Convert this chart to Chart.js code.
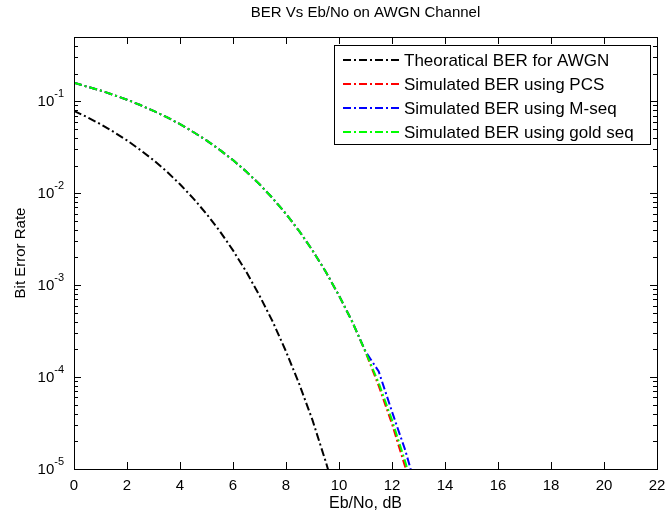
<!DOCTYPE html>
<html lang="en">
<head>
    <meta charset="UTF-8">
    <title>BER Vs Eb/No on AWGN Channel</title>
    <script src="https://cdn.jsdelivr.net/npm/chart.js"></script>
    <style>
        body { margin: 0; background: #fff; }
        canvas { display: block; }
    </style>
</head>
<body>
    <canvas id="berChart" width="667" height="513"></canvas>
    <script>
        // Eb/No points (dB)
        const ebnoTheory = [0, 0.5, 1, 1.5, 2, 2.5, 3, 3.5, 4, 4.5, 5, 5.5, 6, 6.5, 7, 7.5, 8, 8.5, 9, 9.5, 10];
        const ebnoSim = [0, 0.5, 1, 1.5, 2, 2.5, 3, 3.5, 4, 4.5, 5, 5.5, 6, 6.5, 7, 7.5, 8, 8.5, 9, 9.5, 10, 10.5, 11, 11.5, 12, 12.5, 13];

        const berTheory = [0.0786, 0.0672, 0.0563, 0.0463, 0.0375, 0.0296, 0.0229, 0.0172, 0.0125, 0.0088, 0.00595,
            0.00387, 0.00239, 0.0014, 0.00077, 0.0004, 0.00019, 0.000084, 0.000034, 0.000012, 0.0000039];
        const berPCS = [0.159, 0.144, 0.131, 0.117, 0.104, 0.091, 0.0786, 0.0672, 0.0563, 0.0463, 0.0375, 0.0296,
            0.0229, 0.0172, 0.0125, 0.0088, 0.00595, 0.00387, 0.00239, 0.0014, 0.00077, 0.0004, 0.000188,
            0.00008, 0.000031, 0.0000105, 0.0000033];
        const berMseq = [0.159, 0.144, 0.131, 0.117, 0.104, 0.091, 0.0786, 0.0672, 0.0563, 0.0463, 0.0375, 0.0296,
            0.0229, 0.0172, 0.0125, 0.0088, 0.00595, 0.00387, 0.00239, 0.0014, 0.00077, 0.0004, 0.00019,
            0.000115, 0.000042, 0.000016, 0.000005];
        const berGold = [0.159, 0.144, 0.131, 0.117, 0.104, 0.091, 0.0786, 0.0672, 0.0563, 0.0463, 0.0375, 0.0296,
            0.0229, 0.0172, 0.0125, 0.0088, 0.00595, 0.00387, 0.00239, 0.0014, 0.00077, 0.0004, 0.000189,
            0.000086, 0.000034, 0.000012, 0.0000038];

        const yDecades = [-5, -4, -3, -2, -1];

        const labels = ["Theoratical BER for AWGN", "Simulated BER using PCS", "Simulated BER using M-seq", "Simulated BER using gold seq"];
        const colors = ["#000000", "#ff0000", "#0000ff", "#00ff00"];
        const dash = [8, 3, 2, 3];
        const FONT = "'Liberation Sans', Arial, sans-serif";

        const toPts = (xs, ys) => xs.map((x, i) => ({ x: x, y: ys[i] }));
        const series = [toPts(ebnoTheory, berTheory), toPts(ebnoSim, berPCS), toPts(ebnoSim, berMseq), toPts(ebnoSim, berGold)];

        // MATLAB style box with inward ticks, 10^n labels and legend
        const boxPlugin = {
            id: 'boxPlugin',
            afterDatasetsDraw(chart) {
                const ctx = chart.ctx;
                const a = chart.chartArea;
                const xs = chart.scales.x, ys = chart.scales.y;
                ctx.save();
                ctx.strokeStyle = '#000';
                ctx.lineWidth = 1;
                ctx.beginPath();
                xs.ticks.forEach(t => {
                    const px = Math.round(xs.getPixelForValue(t.value)) + 0.5;
                    ctx.moveTo(px, a.bottom); ctx.lineTo(px, a.bottom - 7);
                    ctx.moveTo(px, a.top); ctx.lineTo(px, a.top + 7);
                });
                yDecades.forEach(d => {
                    for (let k = 1; k <= 9; k++) {
                        const v = k * Math.pow(10, d);
                        if (v > ys.max) break;
                        const len = k === 1 ? 7 : 4;
                        const py = Math.round(ys.getPixelForValue(v)) + 0.5;
                        ctx.moveTo(a.left, py); ctx.lineTo(a.left + len, py);
                        ctx.moveTo(a.right, py); ctx.lineTo(a.right - len, py);
                    }
                });
                ctx.stroke();
                ctx.strokeRect(Math.round(a.left) + 0.5, Math.round(a.top) + 0.5, Math.round(a.right - a.left), Math.round(a.bottom - a.top));

                // y tick labels 10^n
                ctx.fillStyle = '#000';
                ctx.textAlign = 'right';
                ctx.textBaseline = 'middle';
                yDecades.forEach(d => {
                    const py = ys.getPixelForValue(Math.pow(10, d));
                    const exp = String(d);
                    ctx.font = '11px ' + FONT;
                    const w = ctx.measureText(exp).width;
                    ctx.fillText(exp, a.left - 10, py - 7);
                    ctx.font = '15px ' + FONT;
                    ctx.fillText('10', a.left - 10 - w, py + 1);
                });

                // legend
                const lx = 334, ly = 45, lw = 316, lh = 99;
                ctx.textAlign = 'left';
                ctx.fillStyle = '#fff';
                ctx.fillRect(lx, ly, lw, lh);
                ctx.strokeRect(lx + 0.5, ly + 0.5, lw, lh);
                ctx.font = '17px ' + FONT;
                labels.forEach((lab, i) => {
                    const y = ly + 15 + i * 24;
                    ctx.strokeStyle = colors[i];
                    ctx.lineWidth = 2;
                    ctx.setLineDash(dash);
                    ctx.beginPath();
                    ctx.moveTo(lx + 9, y); ctx.lineTo(lx + 67, y);
                    ctx.stroke();
                    ctx.setLineDash([]);
                    ctx.fillStyle = '#000';
                    ctx.fillText(lab, lx + 70, y + 1);
                });
                ctx.restore();
            }
        };

        new Chart(document.getElementById('berChart'), {
            type: 'line',
            data: {
                datasets: series.map((pts, i) => ({
                    label: labels[i],
                    data: pts,
                    borderColor: colors[i],
                    borderWidth: 2,
                    borderDash: dash,
                    pointRadius: 0,
                    tension: 0,
                    fill: false,
                    order: 3 - i
                }))
            },
            options: {
                responsive: false,
                animation: false,
                layout: { padding: { left: 0, right: 10, top: 0, bottom: 0 } },
                plugins: {
                    legend: { display: false },
                    tooltip: { enabled: false },
                    title: {
                        display: true,
                        text: 'BER Vs Eb/No on AWGN Channel',
                        fullSize: false,
                        color: '#000',
                        font: { family: FONT, size: 15, weight: 'normal' },
                        padding: { top: 4, bottom: 15 }
                    }
                },
                scales: {
                    x: {
                        type: 'linear',
                        min: 0, max: 22,
                        grid: { display: false },
                        border: { display: true, color: '#000' },
                        ticks: { stepSize: 2, color: '#000', padding: 0, font: { family: FONT, size: 15 } },
                        title: { display: true, text: 'Eb/No, dB', color: '#000', font: { family: FONT, size: 16 }, padding: { top: 0, bottom: 0 } },
                        afterFit(scale) { scale.height = 44; }
                    },
                    y: {
                        type: 'logarithmic',
                        min: 1e-5, max: 0.5,
                        grid: { display: false },
                        border: { display: true, color: '#000' },
                        ticks: { display: false },
                        title: { display: true, text: 'Bit Error Rate', color: '#000', font: { family: FONT, size: 15 }, padding: { top: 12, bottom: 0 } },
                        afterFit(scale) { scale.width = 74; }
                    }
                }
            },
            plugins: [boxPlugin]
        });
    </script>
</body>
</html>
